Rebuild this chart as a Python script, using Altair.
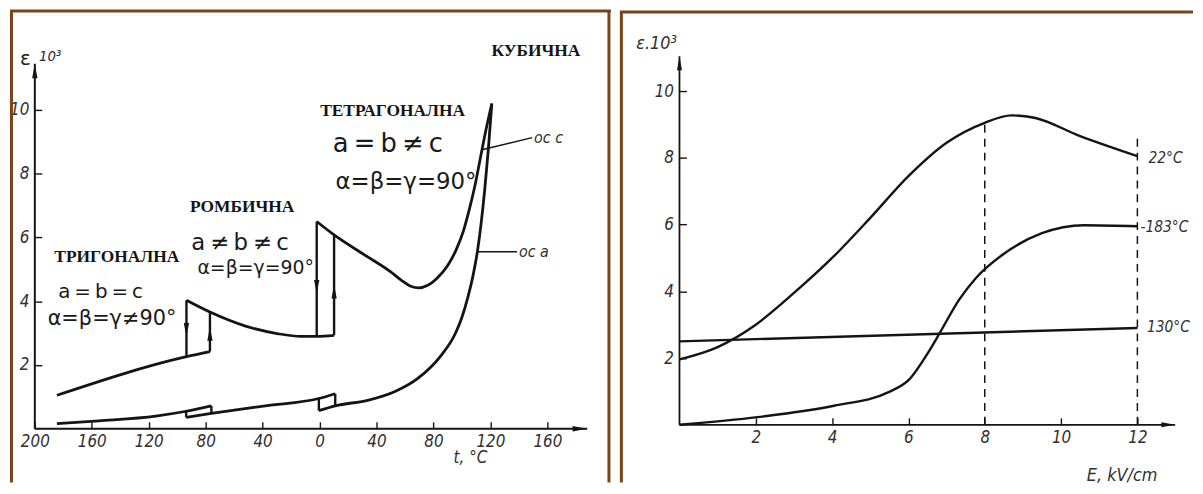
import altair as alt
import pandas as pd

# ================= LEFT PANEL: eps*10^3 versus t, degC =================
# c-axis curve, one segment per phase (t, eps)
c_trig_t   = [-184.5, -93.5, -77.0]
c_trig_eps = [1.05, 2.26, 2.42]
c_orth_t   = [-93.5, -77.0, -52.0, -29.0, -13.0, -2.0, 10.2]
c_orth_eps = [4.03, 3.66, 3.22, 2.98, 2.90, 2.90, 2.93]
c_tetr_t   = [-2.0, 10.2, 31.0, 50.0, 58.0, 64.0, 70.0, 76.0, 82.0, 90.0, 96.0, 101.0, 105.0, 109.0, 113.0, 117.0, 121.0]
c_tetr_eps = [6.50, 6.08, 5.47, 4.92, 4.64, 4.47, 4.42, 4.50, 4.70, 5.12, 5.62, 6.20, 6.85, 7.60, 8.50, 9.40, 10.20]
# a-axis curve
a_low_t    = [-184.5, -155.0, -115.0, -93.7, -76.0]
a_low_eps  = [0.16, 0.25, 0.40, 0.55, 0.72]
a_mid_t    = [-93.7, -76.0, -38.0, -0.5, 11.0]
a_mid_eps  = [0.36, 0.48, 0.72, 0.95, 1.10]
a_high_t   = [-0.5, 11.0, 34.5, 53.0, 69.0, 85.0, 95.7, 100.0, 104.0, 108.0, 111.0, 113.5, 116.0, 118.5, 121.0]
a_high_eps = [0.57, 0.72, 0.90, 1.17, 1.58, 2.28, 3.02, 3.50, 4.10, 4.85, 5.60, 6.45, 7.50, 8.75, 10.20]
# phase-transition jumps (vertical segments)
jump_t  = [-93.5, -77.0, -2.0, 10.2, -93.7, -76.0, -0.5, 11.0]
jump_lo = [2.26, 2.42, 2.90, 2.93, 0.36, 0.48, 0.57, 0.72]
jump_hi = [4.03, 3.66, 6.50, 6.08, 0.55, 0.72, 0.95, 1.10]
# arrows on the jumps
arrow_t   = [-93.5, -77.0, -2.0, 10.2]
arrow_eps = [3.10, 2.98, 4.45, 4.30]
arrow_dir = ["down", "up", "down", "up"]
# leader lines to axis labels
lead_c_t, lead_c_eps = [114.0, 149.3], [8.75, 9.13]
lead_a_t, lead_a_eps = [110.8, 138.6], [5.55, 5.55]
# texts
phase_text = ["КУБИЧНА", "ТЕТРАГОНАЛНА", "РОМБИЧНА", "ТРИГОНАЛНА"]
phase_t    = [152.0, 51.3, -54.4, -142.4]
phase_eps  = [11.84, 9.97, 6.95, 5.39]
formula_text = ["a\u2009=\u2009b\u2009≠\u2009c", "α=β=γ=90°", "a\u2009≠\u2009b\u2009≠\u2009c", "α=β=γ=90°",
                "a\u2009=\u2009b\u2009=\u2009c", "α=β=γ≠90°"]
formula_t    = [48.0, 60.7, -55.8, -44.9, -153.8, -145.8]
formula_eps  = [8.94, 7.73, 5.83, 5.05, 4.30, 3.43]
formula_size = [26, 23, 23, 19, 20, 21]
axis_lbl_text = ["ос c", "ос a", "t, °C"]
axis_lbl_t    = [150.7, 140.0, 106.0]
axis_lbl_eps  = [9.13, 5.55, -0.93]
left_x_ticks = [-200, -160, -120, -80, -40, 0, 40, 80, 120, 160]
left_y_ticks = [2, 4, 6, 8, 10]
left_axis_x_end = 188.0
left_axis_y_end = 11.45

# ================= RIGHT PANEL: eps*10^3 versus E, kV/cm =================
e22_E    = [0.0, 1.0, 2.0, 3.0, 4.0, 5.0, 6.0, 7.0, 8.0, 8.7, 9.3, 10.5, 12.0]
e22_eps  = [1.96, 2.33, 3.00, 3.95, 5.00, 6.20, 7.45, 8.45, 9.05, 9.27, 9.20, 8.65, 8.05]
e183_E   = [0.0, 2.05, 4.05, 5.48, 6.03, 6.52, 6.83, 7.33, 7.77, 8.52, 9.5, 10.6, 12.0]
e183_eps = [0.0, 0.23, 0.57, 0.98, 1.37, 2.17, 2.77, 3.75, 4.40, 5.14, 5.74, 5.98, 5.95]
e130_E   = [0.0, 12.0]
e130_eps = [2.50, 2.90]
dash_E   = [8.0, 12.0]
dash_top = [9.05, 8.66]
temp_text = ["22°C", "-183°C", "130°C"]
temp_E    = [12.29, 12.08, 12.25]
temp_eps  = [8.00, 5.92, 2.92]
r_title_text = ["ε.10³", "E, kV/cm"]
r_title_E    = [-0.60, 11.60]
r_title_eps  = [11.40, -1.52]
right_x_ticks = [2, 4, 6, 8, 10, 12]
right_y_ticks = [2, 4, 6, 8, 10]
right_axis_x_end = 12.99
right_axis_y_end = 11.04

# ================= styling / layout =================
INK = "#141414"
GREY = "#303030"
FRAME = "#7a4418"
TICKFONT = "'DejaVu Sans Condensed', 'DejaVu Sans', sans-serif"
SERIF = "'Liberation Serif', 'DejaVu Serif', serif"
HAND = "'DejaVu Sans', sans-serif"
H = 476
W1, W2 = 605, 577
# pixel anchors inside each view
L_X0, L_X160 = 25.0, 541.0     # t=-200, t=160
L_Y0, L_Y10 = 422.0, 101.0     # eps=0, eps=10
R_X0, R_X12 = 60.0, 521.0      # E=0, E=12
R_Y0, R_Y10 = 418.0, 82.0      # eps=0, eps=10
TICK = 7

lkx = (L_X160 - L_X0) / 360.0
lky = (L_Y0 - L_Y10) / 10.0
rkx = (R_X12 - R_X0) / 12.0
rky = (R_Y0 - R_Y10) / 10.0
LXS = alt.Scale(domain=[-200 - L_X0 / lkx, -200 + (W1 - L_X0) / lkx], nice=False, zero=False)
LYS = alt.Scale(domain=[-(H - L_Y0) / lky, L_Y0 / lky], nice=False, zero=False)
RXS = alt.Scale(domain=[-R_X0 / rkx, (W2 - R_X0) / rkx], nice=False, zero=False)
RYS = alt.Scale(domain=[-(H - R_Y0) / rky, R_Y0 / rky], nice=False, zero=False)

ARROW_PATH = {"up": "M0,-1.1L0.42,1.1L-0.42,1.1Z", "down": "M0,1.1L0.42,-1.1L-0.42,-1.1Z",
              "axis_up": "M0,0L0.4,2.2L-0.4,2.2Z", "axis_right": "M0,0L-2.2,0.4L-2.2,-0.4Z"}


def axis_x(values, offset, expr):
    return alt.Axis(values=values, orient="bottom", offset=offset, domain=False, grid=False,
                    ticks=True, tickSize=TICK, tickColor=INK, tickWidth=1.4, labelExpr=expr,
                    labelFont=TICKFONT, labelFontStyle="italic", labelFontSize=17,
                    labelColor=GREY, labelPadding=5, labelFlush=False,
                    labelOverlap=False, title=None)


def axis_y(values, offset):
    return alt.Axis(values=values, orient="left", offset=offset, domain=False, grid=False,
                    ticks=True, tickSize=TICK, tickColor=INK, tickWidth=1.4,
                    labelFont=TICKFONT, labelFontStyle="italic", labelFontSize=17,
                    labelColor=GREY, labelPadding=6, labelFlush=False,
                    labelOverlap=False, title=None)


def seg(name, xs, ys):
    return pd.DataFrame({"x": xs, "y": ys, "seg": name, "o": list(range(len(xs)))})


class Panel:
    def __init__(self, xs, ys, xaxis, yaxis):
        self.xs, self.ys, self.xaxis, self.yaxis = xs, ys, xaxis, yaxis

    def xy(self):
        return dict(x=alt.X("x:Q", scale=self.xs, axis=self.xaxis),
                    y=alt.Y("y:Q", scale=self.ys, axis=self.yaxis))

    def text(self, df, font, style="normal", weight="normal", align="center", color=INK):
        return alt.Chart(df).mark_text(font=font, fontStyle=style, fontWeight=weight, align=align,
                                       baseline="middle", color=color).encode(
            text="label:N", size=alt.Size("size:Q", scale=None), **self.xy())


def frame_rules(top_y, width, right=True):
    one = alt.Data(values=[{"k": 1}])
    layers = [
        alt.Chart(one).mark_rule(color=FRAME, strokeWidth=3).encode(
            x=alt.value(1.5), y=alt.value(top_y), y2=alt.value(H)),
        alt.Chart(one).mark_rule(color=FRAME, strokeWidth=3).encode(
            x=alt.value(0), x2=alt.value(width), y=alt.value(top_y)),
    ]
    if right:
        layers.append(alt.Chart(one).mark_rule(color=FRAME, strokeWidth=3).encode(
            x=alt.value(width - 2), y=alt.value(top_y), y2=alt.value(H)))
    return layers


# ---------------- left panel ----------------
LP = Panel(LXS, LYS, axis_x(left_x_ticks, -(H - (L_Y0 - TICK)), "abs(datum.value)"),
           axis_y(left_y_ticks, -(L_X0 + TICK)))
left_curves = pd.concat([
    seg("c1", c_trig_t, c_trig_eps), seg("c2", c_orth_t, c_orth_eps), seg("c3", c_tetr_t, c_tetr_eps),
    seg("a1", a_low_t, a_low_eps), seg("a2", a_mid_t, a_mid_eps), seg("a3", a_high_t, a_high_eps)])
left_jumps = pd.DataFrame({"x": jump_t, "y": jump_lo, "y2": jump_hi})
left_arrows = pd.DataFrame({"x": arrow_t + [left_axis_x_end, -200.0],
                            "y": arrow_eps + [0.0, left_axis_y_end],
                            "shape": [ARROW_PATH[d] for d in arrow_dir] + [ARROW_PATH["axis_right"], ARROW_PATH["axis_up"]],
                            "size": [160] * len(arrow_t) + [180, 180]})
left_leads = pd.concat([seg("lc", lead_c_t, lead_c_eps), seg("la", lead_a_t, lead_a_eps)])
left_axes_h = pd.DataFrame({"x": [-200.0], "x2": [left_axis_x_end], "y": [0.0]})
left_axes_v = pd.DataFrame({"x": [-200.0], "y": [0.0], "y2": [left_axis_y_end]})

left_layers = [
    alt.Chart(left_curves).mark_line(color=INK, strokeWidth=2.8, interpolate="monotone").encode(
        detail="seg:N", order="o:Q", **LP.xy()),
    alt.Chart(left_jumps).mark_rule(color=INK, strokeWidth=2.4).encode(y2="y2:Q", **LP.xy()),
    alt.Chart(left_axes_h).mark_rule(color=INK, strokeWidth=2).encode(x2="x2:Q", **LP.xy()),
    alt.Chart(left_axes_v).mark_rule(color=INK, strokeWidth=2).encode(y2="y2:Q", **LP.xy()),
    alt.Chart(left_arrows).mark_point(filled=True, color=INK, opacity=1, strokeWidth=0).encode(
        shape=alt.Shape("shape:N", scale=None), size=alt.Size("size:Q", scale=None), **LP.xy()),
    alt.Chart(left_leads).mark_line(color=INK, strokeWidth=1.4).encode(
        detail="seg:N", order="o:Q", **LP.xy()),
    LP.text(pd.DataFrame({"x": phase_t, "y": phase_eps, "label": phase_text, "size": [17.5] * 4}),
            SERIF, weight="bold"),
    LP.text(pd.DataFrame({"x": formula_t, "y": formula_eps, "label": formula_text, "size": formula_size}),
            HAND, color="#1a1a1a"),
    LP.text(pd.DataFrame({"x": axis_lbl_t[:2], "y": axis_lbl_eps[:2], "label": axis_lbl_text[:2], "size": [16, 16]}),
            TICKFONT, style="italic", align="left", color=GREY),
    LP.text(pd.DataFrame({"x": axis_lbl_t[2:], "y": axis_lbl_eps[2:], "label": axis_lbl_text[2:], "size": [17]}),
            TICKFONT, style="italic", color=GREY),
    LP.text(pd.DataFrame({"x": [-206.6], "y": [11.59], "label": ["ε"], "size": [20]}), HAND, color="#222222"),
    LP.text(pd.DataFrame({"x": [-189.2], "y": [11.68], "label": ["10³"], "size": [15]}),
            TICKFONT, style="italic", color=GREY),
] + frame_rules(1.5, W1, right=True)

left = alt.layer(*left_layers).properties(width=W1, height=H)

# ---------------- right panel ----------------
RP = Panel(RXS, RYS, axis_x(right_x_ticks, -(H - (R_Y0 - TICK)), "datum.value"),
           axis_y(right_y_ticks, -(R_X0 + TICK)))
right_curves = pd.concat([seg("t22", e22_E, e22_eps), seg("t183", e183_E, e183_eps), seg("t130", e130_E, e130_eps)])
right_dash = pd.DataFrame({"x": dash_E, "y": [0.0] * len(dash_E), "y2": dash_top})
right_arrows = pd.DataFrame({"x": [right_axis_x_end, 0.0], "y": [0.0, right_axis_y_end],
                             "shape": [ARROW_PATH["axis_right"], ARROW_PATH["axis_up"]], "size": [160, 160]})
right_axes_h = pd.DataFrame({"x": [0.0], "x2": [right_axis_x_end], "y": [0.0]})
right_axes_v = pd.DataFrame({"x": [0.0], "y": [0.0], "y2": [right_axis_y_end]})

right_layers = [
    alt.Chart(right_curves).mark_line(color=INK, strokeWidth=2.4, interpolate="monotone").encode(
        detail="seg:N", order="o:Q", **RP.xy()),
    alt.Chart(right_dash).mark_rule(color=INK, strokeWidth=1.5, strokeDash=[8, 6]).encode(y2="y2:Q", **RP.xy()),
    alt.Chart(right_axes_h).mark_rule(color=INK, strokeWidth=1.8).encode(x2="x2:Q", **RP.xy()),
    alt.Chart(right_axes_v).mark_rule(color=INK, strokeWidth=1.8).encode(y2="y2:Q", **RP.xy()),
    alt.Chart(right_arrows).mark_point(filled=True, color=INK, opacity=1, strokeWidth=0).encode(
        shape=alt.Shape("shape:N", scale=None), size=alt.Size("size:Q", scale=None), **RP.xy()),
    RP.text(pd.DataFrame({"x": temp_E, "y": temp_eps, "label": temp_text, "size": [15.5] * 3}),
            TICKFONT, style="italic", align="left", color=GREY),
    RP.text(pd.DataFrame({"x": r_title_E, "y": r_title_eps, "label": r_title_text, "size": [18, 18]}),
            TICKFONT, style="italic", color=GREY),
] + frame_rules(2.5, W2, right=False)

right = alt.layer(*right_layers).properties(width=W2, height=H)

chart = alt.hconcat(left, right, spacing=5, padding=0, background="white").configure_view(stroke=None)
chart.save("out.html", embed_options={"renderer": "svg", "actions": False})
